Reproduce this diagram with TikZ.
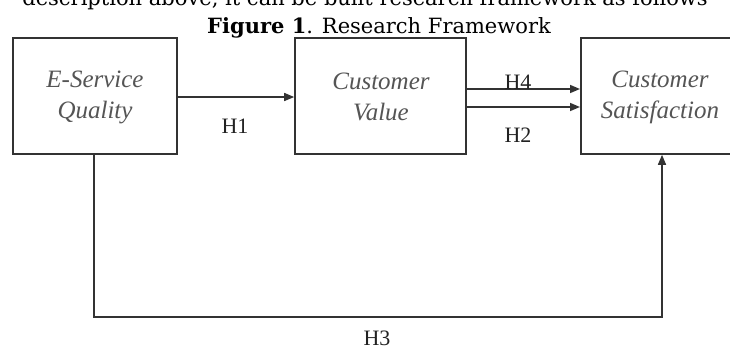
\documentclass[tikz,border=0pt]{standalone}
\usepackage{fontspec}
\setmainfont{Liberation Serif}
\newfontfamily\capfont{DejaVu Serif}
\usetikzlibrary{arrows.meta}
\definecolor{boxline}{HTML}{333333}
\definecolor{boxtext}{HTML}{555555}
\definecolor{lbl}{HTML}{222222}
\begin{document}
\begin{tikzpicture}[x=1pt,y=-1pt,
  varbox/.style={draw=boxline,line width=1.6pt,minimum width=164pt,minimum height=116pt,inner sep=0pt},
  vartext/.style={font=\fontsize{25}{31}\selectfont\itshape,text=boxtext,align=center,inner sep=0pt},
  conn/.style={draw=boxline,line width=1.5pt},
  arr/.style={conn,-{Triangle[length=10pt,width=8pt]}},
  hlabel/.style={font=\fontsize{22}{24}\selectfont,text=lbl,inner sep=0pt}]
\useasboundingbox (0,0) rectangle (730,349);
\clip (0,0) rectangle (730,349);
\fill[white] (0,0) rectangle (730,349);
% cut-off text line at the top
\node[anchor=base,inner sep=0pt,font=\capfont\fontsize{21}{26}\selectfont] (prev) at (365,5) {description above, it can be built research framework as follows};
% title
\node[anchor=base,inner sep=0pt,font=\capfont\fontsize{21}{26}\selectfont] (title) at (379,33) {\textbf{Figure 1}. Research Framework};
% boxes
\node[varbox,minimum width=164pt] (esq) at (95,96) {};
\node[vartext] (esqt) at (95,97) {E-Service\\Quality};
\node[varbox,minimum width=171pt] (cv) at (380.5,96) {};
\node[vartext] (cvt) at (381,97) {Customer\\Value};
\node[varbox,minimum width=160pt,anchor=west] (cs) at (580,96) {};
\node[vartext] (cst) at (660,97) {Customer\\Satisfaction};
% H1
\draw[arr] (esq.east |- 0,97) -- (cv.west |- 0,97);
\node[hlabel] (h1) at (235,126) {H1};
% H4 and H2
\draw[arr] (cv.east |- 0,89) -- (cs.west |- 0,89);
\draw[arr] (cv.east |- 0,107) -- (cs.west |- 0,107);
\node[hlabel] (h4) at (518,82) {H4};
\node[hlabel] (h2) at (518,135) {H2};
% H3
\coordinate (b1) at (94,317);
\coordinate (b2) at (662,317);
\draw[arr] (esq.south -| b1) -- (b1) -- (b2) -- (cs.south -| b2);
\node[hlabel] (h3) at (377,338) {H3};
\end{tikzpicture}
\end{document}
